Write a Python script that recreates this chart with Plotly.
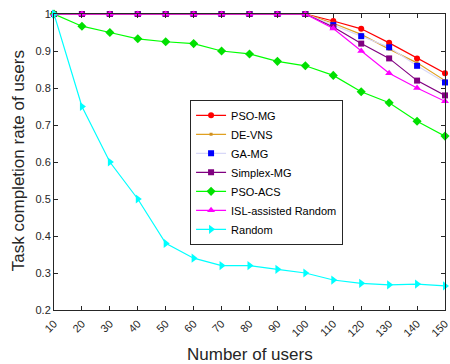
import plotly.graph_objects as go

users = [10, 20, 30, 40, 50, 60, 70, 80, 90, 100, 110, 120, 130, 140, 150]
pso_mg = [1, 1, 1, 1, 1, 1, 1, 1, 1, 1, 0.981, 0.96, 0.922, 0.88, 0.84]
de_vns = [1, 1, 1, 1, 1, 1, 1, 1, 1, 1, 0.975, 0.945, 0.905, 0.868, 0.82]
ga_mg = [1, 1, 1, 1, 1, 1, 1, 1, 1, 1, 0.97, 0.94, 0.91, 0.86, 0.815]
simplex_mg = [1, 1, 1, 1, 1, 1, 1, 1, 1, 1, 0.965, 0.92, 0.88, 0.82, 0.78]
pso_acs = [1, 0.967, 0.95, 0.933, 0.925, 0.92, 0.9, 0.892, 0.872, 0.86, 0.834, 0.79, 0.76, 0.71, 0.67]
isl_random = [1, 1, 1, 1, 1, 1, 1, 1, 1, 1, 0.961, 0.9, 0.84, 0.8, 0.764]
random_ = [1, 0.75, 0.6, 0.5, 0.38, 0.34, 0.32, 0.32, 0.31, 0.3, 0.281, 0.272, 0.268, 0.27, 0.265]

y_ticks = [0.2, 0.3, 0.4, 0.5, 0.6, 0.7, 0.8, 0.9, 1]
y_tick_text = ["0.2", "0.3", "0.4", "0.5", "0.6", "0.7", "0.8", "0.9", "1"]

series = [
    ("PSO-MG", pso_mg, "#ff0000", "#ff0000", "circle", 6),
    ("DE-VNS", de_vns, "#e0a020", "#d09020", "square", 3),
    ("GA-MG", ga_mg, "#d8d8f8", "#0000ff", "square", 6),
    ("Simplex-MG", simplex_mg, "#800080", "#800080", "square", 6),
    ("PSO-ACS", pso_acs, "#00ff00", "#00e000", "diamond", 7),
    ("ISL-assisted Random", isl_random, "#ff00ff", "#ff00ff", "triangle-up", 7),
    ("Random", random_, "#00ffff", "#00ffff", "triangle-right", 8),
]

fig = go.Figure()
for name, vals, lc, mc, sym, sz in series:
    fig.add_trace(go.Scatter(
        x=users, y=vals, name=name, mode="lines+markers",
        line=dict(color=lc, width=1.2),
        marker=dict(color=mc, symbol=sym, size=sz, line=dict(width=0)),
        cliponaxis=False,
    ))

axis_color = "#262626"
fig.update_layout(
    width=450, height=364,
    margin=dict(l=54, r=5, t=14, b=54, autoexpand=False),
    paper_bgcolor="white", plot_bgcolor="white",
    font=dict(family="Liberation Sans, Arial, sans-serif", size=11, color=axis_color),
    showlegend=True,
    legend=dict(
        x=0.348, y=0.71, xanchor="left", yanchor="top",
        bgcolor="white", bordercolor=axis_color, borderwidth=1,
        font=dict(size=11, color="#000000"),
        itemwidth=30, tracegroupgap=0,
    ),
    xaxis=dict(
        range=[10, 150], tickvals=users, ticktext=[str(u) for u in users],
        tickangle=-45, ticks="inside", ticklen=4, tickcolor=axis_color,
        ticklabeloverflow="allow", ticklabelstandoff=2,
        showline=True, linecolor=axis_color, linewidth=1, mirror="ticks",
        showgrid=False, zeroline=False, automargin=False,
    ),
    yaxis=dict(
        range=[0.2, 1], tickvals=y_ticks, ticktext=y_tick_text,
        ticks="inside", ticklen=4, tickcolor=axis_color,
        ticklabeloverflow="allow",
        showline=True, linecolor=axis_color, linewidth=1, mirror="ticks",
        showgrid=False, zeroline=False, automargin=False,
    ),
    annotations=[
        dict(text="Number of users", xref="paper", yref="paper",
             x=0.5, y=-0.152, xanchor="center", yanchor="middle",
             showarrow=False, font=dict(size=17, color=axis_color)),
        dict(text="Task completion rate of users", xref="paper", yref="paper",
             x=-0.092, y=0.503, xanchor="center", yanchor="middle", textangle=-90,
             showarrow=False, font=dict(size=17, color=axis_color)),
    ],
)

fig.write_html(
    "out.html",
    config={"displayModeBar": False},
    post_script="document.body.style.margin='0';document.body.style.overflow='hidden';",
)
